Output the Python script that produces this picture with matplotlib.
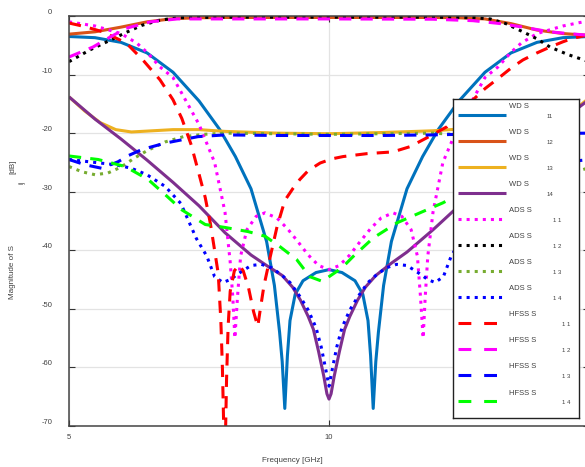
import matplotlib
matplotlib.use("Agg")
import matplotlib.pyplot as plt
import numpy as np

plt.rcParams['font.family'] = ['Liberation Sans', 'DejaVu Sans']
plt.rcParams['axes.unicode_minus'] = False

# --- datos (frecuencia en GHz, magnitud en dB) ---
f_wd11 = [5, 5.5, 6, 6.5, 7, 7.5, 7.9, 8.2, 8.5, 8.8, 8.95, 9.05, 9.1, 9.15, 9.2, 9.25,
          9.35, 9.5, 9.75, 10, 10.25, 10.5, 10.65, 10.75, 10.8, 10.85, 10.9, 10.95, 11.05,
          11.2, 11.5, 11.8, 12.1, 12.5, 13, 13.5, 14, 14.5, 15]
wd11 = [-3.5, -3.7, -4.5, -6.3, -9.6, -14.5, -19.4, -24, -29.5, -38.5, -46, -54, -59, -67, -58, -52,
        -47.5, -45.2, -43.8, -43.3, -43.8, -45.2, -47.5, -52, -58, -67, -59, -54, -46,
        -38.5, -29.5, -24, -19.4, -14.5, -9.6, -6.3, -4.5, -3.7, -3.5]

f_wd12 = [5, 5.5, 6, 6.5, 7, 7.5, 8, 10, 12, 12.5, 13, 13.5, 14, 14.5, 15]
wd12 = [-3.1, -2.7, -1.9, -1.0, -0.45, -0.3, -0.25, -0.25, -0.25, -0.3, -0.5, -1.3, -2.4, -3.0, -3.3]

f_wd13 = [5, 5.3, 5.6, 5.9, 6.2, 6.6, 7, 7.5, 8, 9, 10, 11, 12, 12.5, 13, 13.4, 13.8,
          14.1, 14.4, 14.7, 15]
wd13 = [-13.8, -16.2, -18.2, -19.4, -19.8, -19.6, -19.4, -19.4, -19.7, -20, -20.1, -19.9, -19.6,
        -19.3, -19.4, -19.6, -19.8, -19.4, -18.2, -16.2, -14]

f_wd14 = [5, 5.5, 6, 6.5, 7, 7.5, 8, 8.5, 8.8, 9.1, 9.3, 9.45, 9.6, 9.7, 9.8, 9.9, 9.96, 10,
          10.04, 10.1, 10.2, 10.3, 10.4, 10.55, 10.7, 10.9, 11.2, 11.5, 12, 12.5, 13, 13.5,
          14, 14.5, 15]
wd14 = [-13.8, -17.6, -21, -24.6, -28.4, -32.4, -37, -40.8, -42.6, -44.3, -46.3, -48.5, -51.3,
        -53.5, -57.3, -61.5, -64.5, -65.4, -64.5, -61.5, -57.3, -53.5, -51.3, -48.5, -46.3,
        -44.3, -42.2, -40.3, -36.5, -32.4, -28.4, -24.6, -21, -17.6, -14.3]

f_ads11 = [5, 5.5, 6, 6.3, 6.5, 6.75, 7, 7.25, 7.5, 7.8, 8, 8.1, 8.15, 8.19, 8.24, 8.3, 8.42,
           8.6, 8.77, 9, 9.2, 9.4, 9.6, 9.8, 10, 10.2, 10.4, 10.6, 10.8, 11, 11.23, 11.4,
           11.58, 11.7, 11.76, 11.81, 11.85, 11.9, 12, 12.19, 12.5, 12.75, 13, 13.25, 13.5,
           13.7, 14, 14.5, 15]
ads11 = [-1.0, -1.7, -3.0, -4.6, -6.2, -8.7, -10.5, -14.5, -18.5, -25, -33.5, -42, -48, -55,
         -48, -41, -36.5, -34.2, -33.6, -34.5, -36.3, -38.5, -40.8, -42.6, -43.3, -42.6, -40.8,
         -38.5, -36.3, -34.5, -33.6, -34.2, -36.5, -41, -48, -55, -48, -41, -33.5, -25, -18.5,
         -14.5, -10.5, -8.7, -6.2, -4.6, -3.0, -1.7, -0.8]

f_ads12 = [5, 5.4, 5.8, 6.1, 6.4, 6.75, 7.1, 8, 10, 12, 12.8, 13.1, 13.4, 13.73, 14, 14.25,
           14.6, 15]
ads12 = [-7.8, -5.8, -4.1, -2.8, -1.6, -0.7, -0.3, -0.2, -0.2, -0.2, -0.3, -0.5, -1.3, -2.7,
         -3.9, -5.3, -6.6, -7.8]

f_ads13 = [5, 5.25, 5.5, 5.75, 6, 6.25, 6.5, 6.85, 7.2, 7.6, 8, 9, 10, 11, 12, 12.4, 12.8,
           13.15, 13.5, 13.75, 14, 14.25, 14.5, 14.75, 15]
ads13 = [-25.7, -26.6, -27.1, -26.8, -25.8, -24.3, -23, -21.5, -20.6, -20.2, -20, -20.1, -20.2,
         -20.1, -20, -20.2, -20.6, -21.5, -23, -24.3, -25.8, -26.8, -27.1, -26.6, -25.9]

f_ads14 = [5, 5.3, 5.6, 5.9, 6.2, 6.5, 6.85, 7.15, 7.45, 7.65, 7.8, 7.96, 8.1, 8.29, 8.5, 8.7,
           8.9, 9.1, 9.25, 9.45, 9.6, 9.75, 9.85, 9.93, 10, 10.07, 10.15, 10.25, 10.4, 10.55,
           10.75, 10.9, 11.1, 11.3, 11.5, 11.71, 11.9, 12.04, 12.2, 12.35, 12.55, 12.85, 13.15,
           13.5, 13.8, 14.1, 14.4, 14.7, 15]
ads14 = [-24.5, -24.8, -25.1, -25.4, -26.0, -27.1, -29.1, -32, -38, -41, -44.5, -45.5, -45,
         -43.8, -42.6, -42.4, -43, -44.3, -45.5, -48, -50.2, -53.2, -56.5, -60, -63.2, -60,
         -56.5, -53.2, -50.2, -48, -45.5, -44.3, -43, -42.4, -42.6, -43.8, -45, -45.5, -44.5,
         -41, -38, -32, -29.1, -27.1, -26.0, -25.4, -25.1, -24.8, -24.5]

f_hfss11 = [5, 5.3, 5.65, 6.1, 6.42, 6.75, 7, 7.17, 7.35, 7.48, 7.62, 7.72, 7.8, 7.87, 7.92,
            7.95, 7.97, 7.99, 8.0, 8.03, 8.06, 8.1, 8.18, 8.27, 8.35, 8.45, 8.55, 8.63, 8.68,
            8.75, 8.87, 9, 9.15, 9.31, 9.44, 9.6, 9.83, 10.05, 10.27, 10.73, 11.23, 11.56,
            11.88, 12.27, 12.5, 12.77, 13, 13.29, 13.5, 13.73, 14, 14.25, 14.5, 14.69, 15]
hfss11 = [-1.2, -1.8, -2.7, -4.6, -7.5, -10.9, -14.3, -17.5, -22, -26.3, -31, -35.5, -40, -44,
          -52, -60, -68, -76, -76, -62, -53, -47, -43.5, -42.5, -43.5, -46.3, -50.5, -53, -50,
          -46, -41.1, -36, -31.5, -29.4, -27.9, -26.4, -25.1, -24.4, -24.0, -23.5, -23.2, -22.3,
          -20.8, -18.9, -16.8, -14.3, -12.4, -10.4, -8.9, -7.5, -6.3, -5.3, -4.4, -3.8, -3.2]

f_hfss12 = [5, 5.46, 5.79, 6.1, 6.56, 7.08, 8, 10, 12, 12.77, 13.3, 13.73, 14.25, 14.6, 15]
hfss12 = [-7.0, -5.3, -3.6, -2.1, -1.0, -0.5, -0.5, -0.5, -0.55, -0.8, -1.3, -1.9, -2.7, -3.0, -3.3]

f_hfss13 = [5, 5.31, 5.63, 5.94, 6.15, 6.4, 6.85, 7.48, 8, 9, 10, 11, 12, 12.5, 13, 14, 15]
hfss13 = [-24.5, -25.4, -26, -24.9, -23.8, -22.8, -21.7, -20.6, -20.3, -20.4, -20.4, -20.4,
          -20.3, -20.2, -20.2, -20.1, -20.0]

f_hfss14 = [5, 5.56, 6.08, 6.52, 6.85, 7.17, 7.62, 8, 8.44, 8.77, 9.06, 9.38, 9.63, 9.87,
            10.15, 10.27, 10.46, 10.85, 11.31, 11.75, 12.19, 12.6, 13, 13.5, 14, 14.5, 15]
hfss14 = [-23.9, -24.5, -25.7, -27.9, -30.5, -33.1, -35.6, -36.1, -36.8, -37.6, -39.4, -41.6,
          -44.5, -45.3, -43.6, -42.8, -41.1, -37.9, -35.3, -33.6, -31.9, -30, -28, -25.5, -23,
          -21.2, -20.6]

x_ticks = [5, 10, 15]
y_ticks = [0, -10, -20, -30, -40, -50, -60, -70]

# --- estilo de cada serie (orden de la leyenda) ---
series = [
    (f_wd11, wd11, '#0072BD', '-', 'WD S', '11'),
    (f_wd12, wd12, '#D95319', '-', 'WD S', '12'),
    (f_wd13, wd13, '#EDB120', '-', 'WD S', '13'),
    (f_wd14, wd14, '#7E2F8E', '-', 'WD S', '14'),
    (f_ads11, ads11, '#FF00FF', ':', 'ADS S', '1 1'),
    (f_ads12, ads12, '#000000', ':', 'ADS S', '1 2'),
    (f_ads13, ads13, '#77AC30', ':', 'ADS S', '1 3'),
    (f_ads14, ads14, '#0000FF', ':', 'ADS S', '1 4'),
    (f_hfss11, hfss11, '#FF0000', '--', 'HFSS S', '1 1'),
    (f_hfss12, hfss12, '#FF00FF', '--', 'HFSS S', '1 2'),
    (f_hfss13, hfss13, '#0000FF', '--', 'HFSS S', '1 3'),
    (f_hfss14, hfss14, '#00FF00', '--', 'HFSS S', '1 4'),
]

W, H = 585, 467
fig = plt.figure(figsize=(W / 100, H / 100), dpi=100)
ax = fig.add_axes([69 / W, (H - 426) / H, 520 / W, 410 / H])

for fx, fy, col, ls, name, sub in series:
    kw = dict(color=col, lw=2.2, solid_capstyle='butt')
    if ls == '--':
        kw['dashes'] = (4, 3)
    else:
        kw['linestyle'] = ls
    ax.plot(fx, fy, **kw)

ax.set_xlim(5, 15)
ax.set_ylim(-70, 0)
ax.set_xticks(x_ticks)
ax.set_yticks(y_ticks)
ax.grid(True, color='#e3e3e3', lw=0.9)
ax.set_axisbelow(True)
ax.tick_params(direction='in', length=4.5, width=0.8, top=True, right=True,
               labelsize=5.5, labelcolor='#404040', color='#333333')
ax.tick_params(axis='y', pad=12)
ax.tick_params(axis='x', pad=6)
for lab in ax.get_yticklabels():
    lab.set_verticalalignment('bottom')
for sp in ax.spines.values():
    sp.set_color('#444444')
    sp.set_linewidth(1.1)

# etiquetas de ejes (con subindice como texto aparte)
fig.text(292 / W, 1 - 461 / H, 'Frequency [GHz]', fontsize=5.8, color='#404040',
         ha='center', va='center')
fig.text(13 / W, 1 - 272 / H, 'Magnitude of S', fontsize=5.8, color='#404040',
         rotation=90, ha='center', va='center')
fig.text(22 / W, 1 - 182 / H, 'ij', fontsize=4.8, color='#404040',
         rotation=90, ha='center', va='center')
fig.text(13 / W, 1 - 167 / H, '[dB]', fontsize=5.8, color='#404040',
         rotation=90, ha='center', va='center')

# --- leyenda dibujada a mano (coordenadas en pixeles) ---
lx0, lx1, ly0, ly1 = 453, 579, 99, 418
lax = fig.add_axes([lx0 / W, 1 - ly1 / H, (lx1 - lx0) / W, (ly1 - ly0) / H])
lax.set_xlim(lx0, lx1)
lax.set_ylim(ly1, ly0)
lax.set_xticks([])
lax.set_yticks([])
for sp in lax.spines.values():
    sp.set_color('#222222')
    sp.set_linewidth(1.0)

sub_x = {'WD S': 547, 'ADS S': 553, 'HFSS S': 562}
for i, (fx, fy, col, ls, name, sub) in enumerate(series):
    row = 115 + 26 * i
    kw = dict(color=col, lw=2.2, solid_capstyle='butt')
    if ls == '--':
        kw['dashes'] = (4.2, 4.2)
    else:
        kw['linestyle'] = ls
    lax.plot([458, 506], [row, row], **kw)
    lax.text(509, row - 8, name, fontsize=5.5, color='#404040', va='center', ha='left')
    lax.text(sub_x[name], row + 1, sub, fontsize=4.3, color='#404040', va='center', ha='left')

fig.savefig('out.png', dpi=100)
